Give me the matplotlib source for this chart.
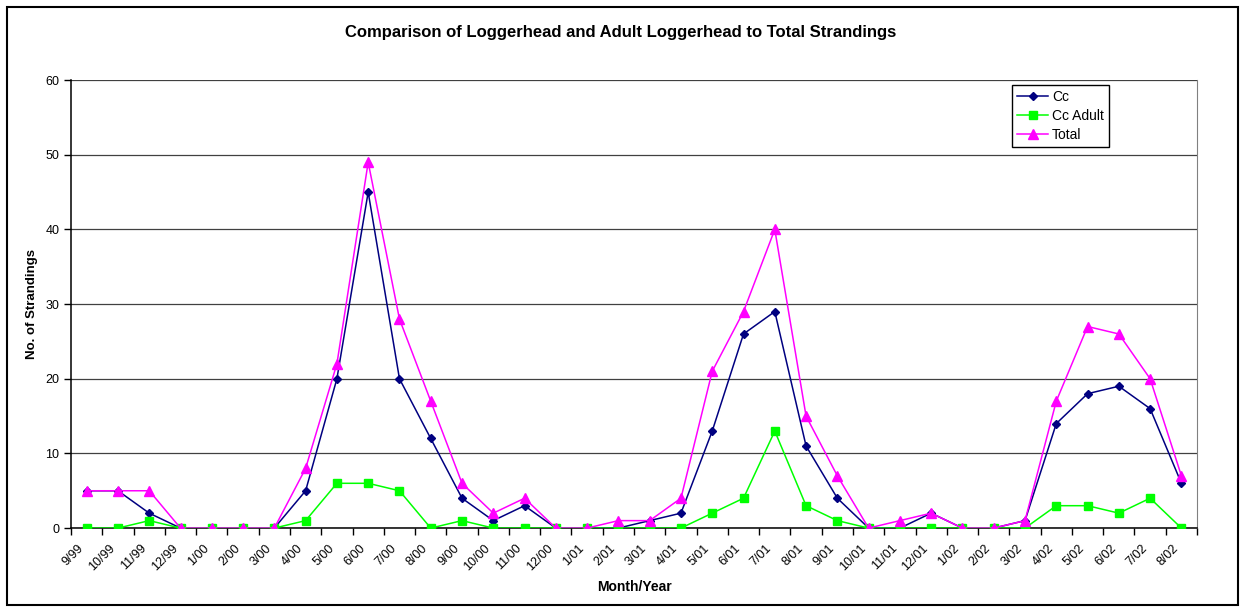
import numpy as np
import matplotlib.pyplot as plt
import matplotlib.transforms as mtransforms
from matplotlib.patches import Rectangle

plt.rcParams['font.family'] = ['Liberation Sans', 'DejaVu Sans']

# ============================================================
# Data
# ============================================================
months = ["9/99", "10/99", "11/99", "12/99", "1/00", "2/00", "3/00", "4/00",
          "5/00", "6/00", "7/00", "8/00", "9/00", "10/00", "11/00", "12/00",
          "1/01", "2/01", "3/01", "4/01", "5/01", "6/01", "7/01", "8/01",
          "9/01", "10/01", "11/01", "12/01", "1/02", "2/02", "3/02", "4/02",
          "5/02", "6/02", "7/02", "8/02"]

cc = [5, 5, 2, 0, 0, 0, 0, 5, 20, 45, 20, 12, 4, 1, 3, 0, 0, 0,
      1, 2, 13, 26, 29, 11, 4, 0, 0, 2, 0, 0, 1, 14, 18, 19, 16, 6]
cc_adult = [0, 0, 1, 0, 0, 0, 0, 1, 6, 6, 5, 0, 1, 0, 0, 0, 0, 0,
            0, 0, 2, 4, 13, 3, 1, 0, 0, 0, 0, 0, 0, 3, 3, 2, 4, 0]
total = [5, 5, 5, 0, 0, 0, 0, 8, 22, 49, 28, 17, 6, 2, 4, 0, 0, 1,
         1, 4, 21, 29, 40, 15, 7, 0, 1, 2, 0, 0, 1, 17, 27, 26, 20, 7]

yticks = [0, 10, 20, 30, 40, 50, 60]

# ============================================================
# Plot
# ============================================================
fig = plt.figure(figsize=(12.42, 6.07), dpi=100)
ax = fig.add_axes([0.0572, 0.130, 0.9066, 0.738])

x = np.arange(len(months))
ax.plot(x, cc, color='#000080', marker='D', markersize=4.5, linewidth=1.1,
        label='Cc', zorder=3)
ax.plot(x, cc_adult, color='#00FF00', marker='s', markersize=6, linewidth=1.1,
        label='Cc Adult', zorder=4)
ax.plot(x, total, color='#FF00FF', marker='^', markersize=6.5, linewidth=1.1,
        label='Total', zorder=5)

ax.set_xlim(-0.5, len(months) - 0.5)
ax.set_ylim(0, 60)
ax.set_yticks(yticks)
ax.yaxis.grid(True, color='#404040', linewidth=0.9)
ax.set_axisbelow(True)

ax.set_xticks(x)
ax.set_xticklabels(months, rotation=45, ha='right', rotation_mode='anchor',
                   fontsize=9)
ax.set_xticks(np.arange(-0.5, len(months)), minor=True)
ax.tick_params(axis='x', which='major', length=0, pad=10)
ax.tick_params(axis='x', which='minor', length=5, width=1, direction='out')
ax.tick_params(axis='y', length=5, width=1, labelsize=9, direction='out')

# shift the rotated labels a little to the left, as in the original
shift = mtransforms.ScaledTranslation(-9 / 100, 0, fig.dpi_scale_trans)
for lab in ax.get_xticklabels():
    lab.set_transform(lab.get_transform() + shift)

ax.spines['top'].set_visible(False)
ax.spines['right'].set_color('#808080')
ax.spines['left'].set_linewidth(1.1)
ax.spines['bottom'].set_linewidth(1.1)

ax.set_xlabel("Month/Year", fontsize=10, fontweight='bold', labelpad=5)
ax.set_ylabel("No. of Strandings", fontsize=9.5, fontweight='bold', labelpad=5)
fig.text(0.5, 0.947, "Comparison of Loggerhead and Adult Loggerhead to Total Strandings",
         ha='center', va='center', fontsize=12, fontweight='bold')

leg = ax.legend(loc='upper left', bbox_to_anchor=(0.836, 0.988), fontsize=10,
                fancybox=False, framealpha=1, edgecolor='black',
                handlelength=2.2, handletextpad=0.3, borderpad=0.35,
                labelspacing=0.35, borderaxespad=0)
leg.get_frame().set_linewidth(1)

# outer chart border
fig.patches.append(Rectangle((0.006, 0.004), 0.991, 0.984, transform=fig.transFigure,
                             fill=False, edgecolor='black', linewidth=1.5))

plt.savefig("out.png", dpi=100)
